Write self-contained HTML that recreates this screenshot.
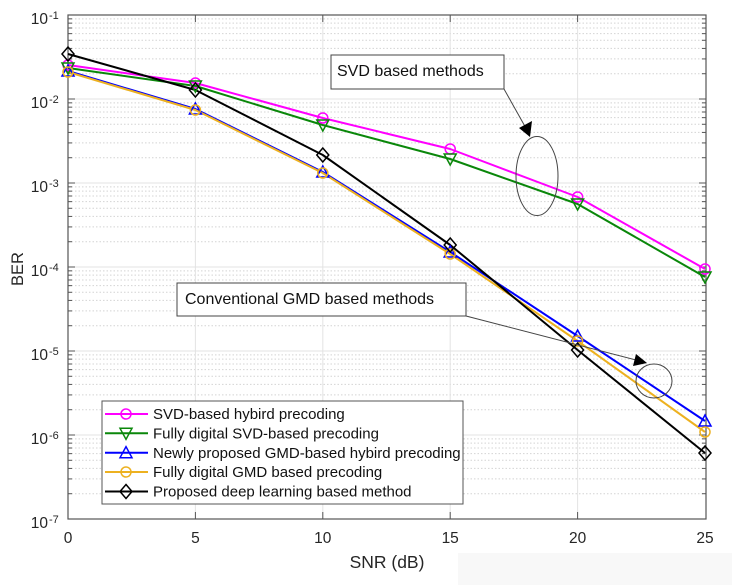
<!DOCTYPE html>
<html><head><meta charset="utf-8"><style>
html,body{margin:0;padding:0;background:#fff;}
svg{display:block;font-family:"Liberation Sans",Arial,sans-serif;}
</style></head><body>
<svg width="732" height="585" viewBox="0 0 732 585" xmlns="http://www.w3.org/2000/svg">
<defs>
<g id="dec">
 <g stroke="#d4d4d4" stroke-width="1" stroke-dasharray="1.5,2">
  <line x1="68" x2="706" y1="-25.29" y2="-25.29"/>
  <line x1="68" x2="706" y1="-40.08" y2="-40.08"/>
  <line x1="68" x2="706" y1="-50.57" y2="-50.57"/>
  <line x1="68" x2="706" y1="-58.71" y2="-58.71"/>
  <line x1="68" x2="706" y1="-65.36" y2="-65.36"/>
  <line x1="68" x2="706" y1="-70.99" y2="-70.99"/>
  <line x1="68" x2="706" y1="-75.86" y2="-75.86"/>
  <line x1="68" x2="706" y1="-80.16" y2="-80.16"/>
 </g>
 <g stroke="#555" stroke-width="1">
  <line x1="68" x2="72" y1="-25.29" y2="-25.29"/><line x1="702" x2="706" y1="-25.29" y2="-25.29"/>
  <line x1="68" x2="72" y1="-40.08" y2="-40.08"/><line x1="702" x2="706" y1="-40.08" y2="-40.08"/>
  <line x1="68" x2="72" y1="-50.57" y2="-50.57"/><line x1="702" x2="706" y1="-50.57" y2="-50.57"/>
  <line x1="68" x2="72" y1="-58.71" y2="-58.71"/><line x1="702" x2="706" y1="-58.71" y2="-58.71"/>
  <line x1="68" x2="72" y1="-65.36" y2="-65.36"/><line x1="702" x2="706" y1="-65.36" y2="-65.36"/>
  <line x1="68" x2="72" y1="-70.99" y2="-70.99"/><line x1="702" x2="706" y1="-70.99" y2="-70.99"/>
  <line x1="68" x2="72" y1="-75.86" y2="-75.86"/><line x1="702" x2="706" y1="-75.86" y2="-75.86"/>
  <line x1="68" x2="72" y1="-80.16" y2="-80.16"/><line x1="702" x2="706" y1="-80.16" y2="-80.16"/>
 </g>
</g>
<circle id="mc" cx="0" cy="0" r="5" fill="none"/>
<polygon id="md" points="-6,-5 6,-5 0,6" fill="none"/>
<polygon id="mu" points="-6,5 6,5 0,-6" fill="none"/>
<polygon id="mdi" points="0,-7 6,0 0,7 -6,0" fill="none"/>
</defs>

<rect x="458" y="553" width="274" height="32" fill="#f8f8f8"/>

<!-- grid -->
<use href="#dec" y="99"/><use href="#dec" y="183"/><use href="#dec" y="267"/>
<use href="#dec" y="351"/><use href="#dec" y="435"/><use href="#dec" y="519"/>
<g stroke="#e3e3e3" stroke-width="1">
 <line x1="68" x2="706" y1="99" y2="99"/><line x1="68" x2="706" y1="183" y2="183"/>
 <line x1="68" x2="706" y1="267" y2="267"/><line x1="68" x2="706" y1="351" y2="351"/>
 <line x1="68" x2="706" y1="435" y2="435"/>
 <line x1="195.4" x2="195.4" y1="15" y2="519"/><line x1="322.8" x2="322.8" y1="15" y2="519"/>
 <line x1="450.2" x2="450.2" y1="15" y2="519"/><line x1="577.6" x2="577.6" y1="15" y2="519"/>
</g>

<!-- axes -->
<rect x="68" y="15" width="638" height="504" fill="none" stroke="#555" stroke-width="1.2"/>
<g stroke="#555" stroke-width="1">
 <line x1="68" x2="75" y1="99" y2="99"/><line x1="68" x2="75" y1="183" y2="183"/><line x1="68" x2="75" y1="267" y2="267"/>
 <line x1="68" x2="75" y1="351" y2="351"/><line x1="68" x2="75" y1="435" y2="435"/>
 <line x1="699" x2="706" y1="99" y2="99"/><line x1="699" x2="706" y1="183" y2="183"/><line x1="699" x2="706" y1="267" y2="267"/>
 <line x1="699" x2="706" y1="351" y2="351"/><line x1="699" x2="706" y1="435" y2="435"/>
 <line x1="195.4" x2="195.4" y1="519" y2="512"/><line x1="322.8" x2="322.8" y1="519" y2="512"/>
 <line x1="450.2" x2="450.2" y1="519" y2="512"/><line x1="577.6" x2="577.6" y1="519" y2="512"/>
 <line x1="195.4" x2="195.4" y1="15" y2="22"/><line x1="322.8" x2="322.8" y1="15" y2="22"/>
 <line x1="450.2" x2="450.2" y1="15" y2="22"/><line x1="577.6" x2="577.6" y1="15" y2="22"/>
</g>

<!-- y tick labels -->
<g fill="#262626" font-size="15.5">
 <text x="48" y="24" text-anchor="end">10</text><text x="49" y="19" font-size="11">-1</text>
 <text x="48" y="108" text-anchor="end">10</text><text x="49" y="103" font-size="11">-2</text>
 <text x="48" y="192" text-anchor="end">10</text><text x="49" y="187" font-size="11">-3</text>
 <text x="48" y="276" text-anchor="end">10</text><text x="49" y="271" font-size="11">-4</text>
 <text x="48" y="360" text-anchor="end">10</text><text x="49" y="355" font-size="11">-5</text>
 <text x="48" y="444" text-anchor="end">10</text><text x="49" y="439" font-size="11">-6</text>
 <text x="48" y="528" text-anchor="end">10</text><text x="49" y="523" font-size="11">-7</text>
</g>
<g fill="#262626" font-size="15.5" text-anchor="middle">
 <text x="68" y="543">0</text><text x="195.4" y="543">5</text><text x="322.8" y="543">10</text>
 <text x="450.2" y="543">15</text><text x="577.6" y="543">20</text><text x="705" y="543">25</text>
</g>
<g fill="#262626" font-size="17.5" text-anchor="middle">
 <text x="387" y="568">SNR (dB)</text>
 <text x="0" y="0" transform="translate(23,269) rotate(-90)" font-size="16.5">BER</text>
</g>

<!-- series -->
<g fill="none" stroke-width="2" stroke-linejoin="round">
 <polyline stroke="#ff00ff" points="68,65 195.4,83 322.8,118 450.2,149 577.6,197 705,269"/>
 <polyline stroke="#0a870a" points="68,68 195.4,86 322.8,125 450.2,159 577.6,204 705,277"/>
 <polyline stroke="#0000ff" points="68,71 195.4,109 322.8,172 450.2,252 577.6,336 705,421"/>
 <polyline stroke="#edb120" points="68,72 195.4,110 322.8,173 450.2,254 577.6,341 705,432"/>
 <polyline stroke="#000" points="68,54 195.4,90 322.8,155 450.2,245 577.6,350 705,453"/>
</g>
<g stroke-width="1.5" fill="none">
 <g stroke="#ff00ff">
  <use href="#mc" x="68" y="65"/><use href="#mc" x="195.4" y="83"/><use href="#mc" x="322.8" y="118"/>
  <use href="#mc" x="450.2" y="149"/><use href="#mc" x="577.6" y="197"/><use href="#mc" x="705" y="269"/>
 </g>
 <g stroke="#0a870a">
  <use href="#md" x="68" y="68"/><use href="#md" x="195.4" y="86"/><use href="#md" x="322.8" y="125"/>
  <use href="#md" x="450.2" y="159"/><use href="#md" x="577.6" y="204"/><use href="#md" x="705" y="277"/>
 </g>
 <g stroke="#0000ff">
  <use href="#mu" x="68" y="71"/><use href="#mu" x="195.4" y="109"/><use href="#mu" x="322.8" y="172"/>
  <use href="#mu" x="450.2" y="252"/><use href="#mu" x="577.6" y="336"/><use href="#mu" x="705" y="421"/>
 </g>
 <g stroke="#edb120">
  <use href="#mc" x="68" y="72"/><use href="#mc" x="195.4" y="110"/><use href="#mc" x="322.8" y="173"/>
  <use href="#mc" x="450.2" y="254"/><use href="#mc" x="577.6" y="341"/><use href="#mc" x="705" y="432"/>
 </g>
 <g stroke="#000">
  <use href="#mdi" x="68" y="54"/><use href="#mdi" x="195.4" y="90"/><use href="#mdi" x="322.8" y="155"/>
  <use href="#mdi" x="450.2" y="245"/><use href="#mdi" x="577.6" y="350"/><use href="#mdi" x="705" y="453"/>
 </g>
</g>

<!-- annotations -->
<rect x="331" y="55" width="173" height="34" fill="#fff" stroke="#444" stroke-width="1"/>
<text x="337" y="76" font-size="16" fill="#111">SVD based methods</text>
<line x1="504" y1="89" x2="527" y2="130" stroke="#444" stroke-width="1"/>
<polygon points="530,137 519,128 532,121" fill="#000"/>
<ellipse cx="537" cy="176" rx="21" ry="39.5" fill="none" stroke="#444" stroke-width="1"/>

<rect x="177" y="283" width="289" height="33" fill="#fff" stroke="#444" stroke-width="1"/>
<text x="185" y="304" font-size="16" fill="#111">Conventional GMD based methods</text>
<line x1="466" y1="316" x2="640" y2="361" stroke="#444" stroke-width="1"/>
<polygon points="647,363 633,366 636,354" fill="#000"/>
<ellipse cx="654" cy="381" rx="18" ry="17" fill="none" stroke="#444" stroke-width="1"/>

<!-- legend -->
<rect x="102" y="401" width="361" height="103" fill="#fff" stroke="#555" stroke-width="1"/>
<g stroke-width="2" fill="none">
 <line x1="105" x2="148" y1="414" y2="414" stroke="#ff00ff"/>
 <line x1="105" x2="148" y1="433.3" y2="433.3" stroke="#0a870a"/>
 <line x1="105" x2="148" y1="452.7" y2="452.7" stroke="#0000ff"/>
 <line x1="105" x2="148" y1="472" y2="472" stroke="#edb120"/>
 <line x1="105" x2="148" y1="491.5" y2="491.5" stroke="#000"/>
</g>
<g stroke-width="1.5" fill="none">
 <use href="#mc" x="126" y="414" stroke="#ff00ff"/>
 <use href="#md" x="126" y="433.3" stroke="#0a870a"/>
 <use href="#mu" x="126" y="452.7" stroke="#0000ff"/>
 <use href="#mc" x="126" y="472" stroke="#edb120"/>
 <use href="#mdi" x="126" y="491.5" stroke="#000"/>
</g>
<g font-size="15" fill="#111">
 <text x="153" y="419">SVD-based hybird precoding</text>
 <text x="153" y="438.5">Fully digital SVD-based precoding</text>
 <text x="153" y="458">Newly proposed GMD-based hybird precoding</text>
 <text x="153" y="477">Fully digital GMD based precoding</text>
 <text x="153" y="496.5">Proposed deep learning based method</text>
</g>
</svg>
</body></html>
